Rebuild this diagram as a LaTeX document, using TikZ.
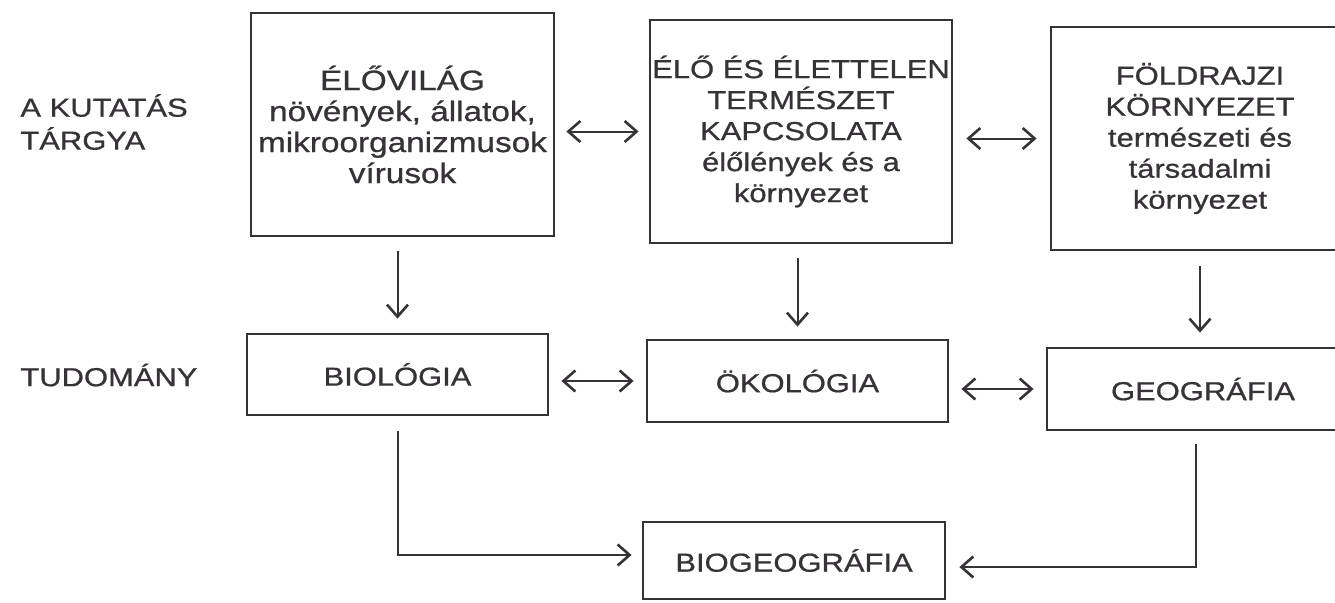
\documentclass[tikz,border=0pt]{standalone}
\usepackage{fontspec}
\setmainfont{Liberation Sans}[FakeStretch=1.19,FakeBold=0.7]
\usetikzlibrary{arrows.meta}
\definecolor{ink}{RGB}{55,50,56}
\begin{document}
\begin{tikzpicture}[x=0.5pt,y=-0.5pt,
  box/.style={draw=ink, line width=1.4pt, rectangle, align=center, inner sep=0pt,
    text=ink, font=\fontsize{13}{15.5}\selectfont},
  lbl/.style={anchor=west, align=left, inner sep=0pt, text=ink,
    font=\fontsize{13}{16.5}\selectfont},
  tip/.tip={Straight Barb[length=6pt,width=10.5pt,line width=1.3pt]},
  arr/.style={draw=ink, line width=1pt, -tip},
  dbl/.style={draw=ink, line width=1pt, tip-tip}]
\useasboundingbox (0,0) rectangle (1335,602);
\clip (0,0) rectangle (1335,602);
\fill[white] (0,0) rectangle (1335,602);

% labels
\node[lbl] (lab1) at (20,122) {A KUTATÁS\\TÁRGYA};
\node[lbl] (lab2) at (20,375) {TUDOMÁNY};

% top row
\node[box, minimum width=151.5pt, minimum height=111.5pt,
  font=\fontsize{14}{15.5}\selectfont] (b1) at (402.5,124.5)
  {ÉLŐVILÁG\\növények, állatok,\\mikroorganizmusok\\vírusok};
\node[box, minimum width=151pt, minimum height=111.5pt] (b2) at (801,131.5)
  {ÉLŐ ÉS ÉLETTELEN\\TERMÉSZET\\KAPCSOLATA\\élőlények és a\\környezet};
\node[box, minimum width=149pt, minimum height=111.5pt] (b3) at (1200,138.5)
  {FÖLDRAJZI\\KÖRNYEZET\\természeti és\\társadalmi\\környezet};

% second row
\node[box, minimum width=150.5pt, minimum height=40.5pt] (bio) at (397.5,374.5) {BIOLÓGIA};
\node[box, minimum width=150.5pt, minimum height=41pt] (oko) at (797.5,381) {ÖKOLÓGIA};
\node[box, minimum width=156pt, minimum height=41pt] (geo) at (1203,389) {GEOGRÁFIA};

% bottom
\node[box, minimum width=151pt, minimum height=38.5pt] (bg) at (794,560.5) {BIOGEOGRÁFIA};

% horizontal double arrows
\draw[dbl, shorten <=5.5pt, shorten >=5pt] (b1.east |- b2.center) -- (b2.west);
\draw[dbl, shorten <=6.5pt, shorten >=6.5pt] (b2.east |- b3.center) -- (b3.west);
\draw[dbl, shorten <=6pt, shorten >=6pt] (bio.east |- oko.center) -- (oko.west);
\draw[dbl, shorten <=6pt, shorten >=6pt] (oko.east |- geo.center) -- (geo.west);

% down arrows
\draw[arr, shorten <=7pt, shorten >=7pt] (b1.south -| bio.north) -- (bio.north);
\draw[arr, shorten <=7pt, shorten >=6pt] (b2.south -| oko.north) -- (oko.north);
\draw[arr, shorten <=7.5pt, shorten >=7pt] (b3.south) -- (b3.south |- geo.north);

% elbow arrows to biogeography
\draw[arr] ([yshift=-7.5pt]bio.south) |- ([xshift=-5pt,yshift=2.75pt]bg.west);
\draw[arr] ([xshift=-3.5pt,yshift=-6.5pt]geo.south) |- ([xshift=6.5pt,yshift=-3.25pt]bg.east);
\end{tikzpicture}
\end{document}
